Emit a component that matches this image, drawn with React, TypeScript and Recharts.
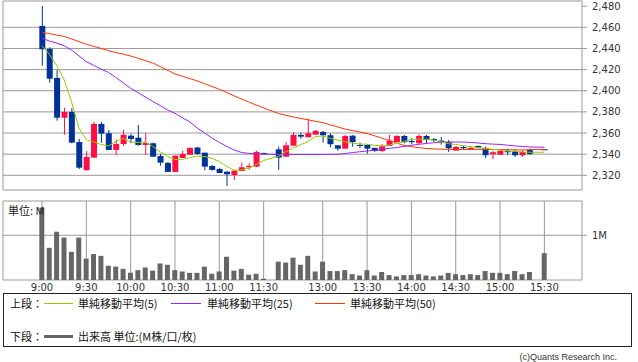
import React from 'react';
import {
  ComposedChart,
  Bar,
  Line,
  XAxis,
  YAxis,
  CartesianGrid,
  ReferenceArea,
} from 'recharts';

// ---- data (index 0 = 9:00, 5-minute bars; null = no trade slot) ----
const opens = [
  2461.3, 2439.5, 2412.1, 2374.5, 2379.9, 2351.5, 2324.9, 2336.7, 2368.6, 2359.8,
  2344.0, 2349.6, 2357.5, 2355.6, 2348.7, 2350.3, 2338.3, 2331.7, 2323.2, 2336.4,
  2339.5, 2346.3, 2341.4, 2328.8, 2326.0, 2323.4, 2320.3, 2324.1, 2327.6, 2328.2,
  2341.1, null, 2344.6, 2337.6, 2348.0, 2358.2, 2356.0, 2358.4, 2361.0, 2357.9,
  2348.4, 2345.2, 2357.5, 2348.7, 2348.7, 2345.9, 2343.0, 2347.8, 2351.5, 2357.2,
  2352.5, 2350.3, 2357.2, 2354.4, 2352.8, 2351.5, 2343.3, 2346.8, 2344.9, 2347.8,
  2345.9, 2339.9, 2339.5, 2343.0, 2343.0, 2339.0, 2344.0, null, 2344.6,
];
const highs = [
  2480.2, 2441.1, 2419.7, 2384.0, 2383.7, 2354.4, 2343.0, 2370.5, 2370.5, 2362.9,
  2354.1, 2362.9, 2359.4, 2367.6, 2359.8, 2350.9, 2340.2, 2332.6, 2338.6, 2343.3,
  2346.3, 2347.1, 2341.4, 2329.8, 2327.2, 2324.0, 2325.1, 2332.0, 2331.4, 2343.3,
  2341.4, null, 2347.1, 2351.5, 2360.7, 2360.3, 2373.6, 2362.9, 2362.0, 2359.8,
  2348.4, 2358.2, 2358.0, 2350.9, 2349.0, 2346.3, 2349.6, 2358.2, 2357.9, 2358.2,
  2355.0, 2358.8, 2358.2, 2355.3, 2356.3, 2353.4, 2347.8, 2348.0, 2347.8, 2348.0,
  2347.1, 2343.0, 2344.6, 2345.2, 2344.6, 2344.0, 2345.2, null, 2344.6,
];
const lows = [
  2423.7, 2407.6, 2371.7, 2358.4, 2350.3, 2326.0, 2324.4, 2336.7, 2350.9, 2344.0,
  2339.2, 2347.8, 2350.3, 2348.0, 2339.2, 2337.4, 2329.1, 2323.2, 2323.2, 2336.4,
  2339.5, 2339.5, 2324.8, 2324.4, 2322.2, 2309.9, 2315.6, 2324.1, 2325.1, 2328.0,
  2340.2, null, 2325.1, 2337.6, 2348.0, 2354.7, 2356.0, 2358.4, 2350.9, 2346.5,
  2343.3, 2345.2, 2347.1, 2345.6, 2340.5, 2342.1, 2342.1, 2347.8, 2351.5, 2350.3,
  2349.4, 2349.6, 2350.3, 2351.5, 2349.0, 2342.1, 2343.3, 2344.3, 2344.3, 2345.6,
  2336.4, 2335.5, 2339.5, 2339.2, 2337.4, 2337.4, 2339.2, null, 2344.6,
];
const closes = [
  2439.2, 2411.4, 2374.5, 2379.9, 2350.9, 2327.2, 2337.4, 2368.6, 2359.4, 2344.0,
  2349.6, 2358.2, 2354.4, 2348.7, 2350.6, 2337.6, 2332.0, 2323.2, 2338.6, 2340.2,
  2345.9, 2340.2, 2328.2, 2325.1, 2322.2, 2321.0, 2324.4, 2327.6, 2328.8, 2342.1,
  2340.5, null, 2336.7, 2348.4, 2358.2, 2356.6, 2359.8, 2362.0, 2357.9, 2349.4,
  2345.2, 2357.2, 2351.5, 2347.8, 2345.2, 2343.0, 2347.5, 2352.8, 2357.2, 2351.3,
  2351.3, 2357.2, 2353.4, 2353.1, 2351.5, 2345.6, 2346.8, 2345.6, 2345.9, 2345.9,
  2339.0, 2341.8, 2343.0, 2341.8, 2339.0, 2342.1, 2340.2, null, 2344.6,
];
const ma5 = [
  2442.6, 2434.3, 2423.9, 2410.2, 2389.4, 2364.8, 2353.6, 2351.5, 2349.2, 2347.8,
  2352.0, 2354.9, 2351.5, 2351.1, 2351.3, 2347.3, 2342.1, 2337.8, 2335.0, 2335.0,
  2336.7, 2338.1, 2337.8, 2336.0, 2333.1, 2328.4, 2324.8, 2325.1, 2326.9, 2330.4,
  2334.0, null, 2338.0, 2342.1, 2345.9, 2348.9, 2352.0, 2356.7, 2357.2, 2355.0,
  2353.4, 2351.7, 2350.4, 2349.6, 2349.4, 2348.4, 2347.8, 2348.7, 2350.1, 2352.0,
  2353.9, 2354.2, 2354.1, 2353.4, 2351.7, 2349.9, 2349.2, 2348.0, 2347.0, 2346.3,
  2345.4, 2344.6, 2344.0, 2343.0, 2342.6, 2342.1, 2341.8, null, 2341.8,
];
const ma25 = [
  2449.6, 2447.0, 2445.0, 2442.6, 2438.5, 2433.0, 2427.5, 2424.0, 2420.5, 2417.3,
  2412.5, 2407.5, 2402.3, 2398.3, 2394.0, 2389.8, 2386.0, 2381.8, 2378.7, 2374.5,
  2370.5, 2364.8, 2360.1, 2355.3, 2351.1, 2347.3, 2344.0, 2341.6, 2340.7, 2340.2,
  2340.0, null, 2339.8, 2339.7, 2339.7, 2339.7, 2339.7, 2339.7, 2339.7, 2339.8,
  2340.0, 2340.5, 2341.5, 2342.3, 2343.0, 2343.6, 2344.5, 2345.5, 2346.3, 2347.4,
  2348.4, 2349.3, 2350.1, 2350.8, 2351.3, 2351.5, 2351.5, 2351.4, 2351.1, 2350.6,
  2349.9, 2349.5, 2349.2, 2348.5, 2347.8, 2347.3, 2346.8, null, 2346.5,
];
const ma50 = [
  2455.3, 2454.0, 2452.7, 2451.4, 2449.0, 2446.5, 2444.0, 2442.0, 2440.0, 2437.9,
  2436.2, 2434.6, 2432.9, 2430.7, 2428.5, 2426.3, 2422.8, 2419.4, 2415.9, 2413.7,
  2411.5, 2409.3, 2406.7, 2404.0, 2401.4, 2398.3, 2395.2, 2392.2, 2389.3, 2386.5,
  2383.7, null, 2378.5, 2376.8, 2375.2, 2373.8, 2372.5, 2371.1, 2369.8, 2367.8,
  2365.8, 2363.8, 2362.4, 2361.0, 2359.6, 2357.4, 2355.2, 2353.0, 2350.5, 2348.3,
  2347.1, 2346.2, 2345.4, 2345.0, 2344.7, 2344.6, 2344.5, 2344.5, 2344.5, 2344.5,
  2344.4, 2344.4, 2344.3, 2344.2, 2344.1, 2344.0, 2344.2, null, 2344.6,
];
// volume in millions of shares
const volumes = [
  1.62, 0.72, 1.08, 0.95, 0.63, 0.95, 0.48, 0.58, 0.54, 0.32,
  0.30, 0.25, 0.16, 0.22, 0.28, 0.21, 0.37, 0.34, 0.22, 0.19,
  0.16, 0.16, 0.30, 0.14, 0.19, 0.52, 0.21, 0.25, 0.12, 0.14,
  0.03, null, 0.41, 0.39, 0.50, 0.34, 0.54, 0.19, 0.41, 0.20,
  0.20, 0.22, 0.13, 0.10, 0.22, 0.10, 0.18, 0.11, 0.08, 0.11,
  0.11, 0.13, 0.10, 0.08, 0.10, 0.16, 0.13, 0.11, 0.13, 0.11,
  0.20, 0.16, 0.16, 0.13, 0.20, 0.13, 0.18, null, 0.60,
];
const timeTickIndex = [0, 6, 12, 18, 24, 30, 38, 44, 50, 56, 62, 68];
const timeTickLabels = ['9:00', '9:30', '10:00', '10:30', '11:00', '11:30', '13:00', '13:30', '14:00', '14:30', '15:00', '15:30'];
const priceTicks = [2320, 2340, 2360, 2380, 2400, 2420, 2440, 2460, 2480];
const priceGrid = [2320, 2340, 2360, 2380, 2400, 2420, 2440, 2460];
const volumeTicks = [1];

const X_MIN = -5.28;
const X_MAX = 73.09;
const P_MIN = 2306.1;
const P_MAX = 2484.9;
const V_MAX = 1.767;

const UP = '#ff0d45';
const DOWN = '#003399';
const GRID = '#999999';
const C_MA5 = '#99cc00';
const C_MA25 = '#9922ff';
const C_MA50 = '#ff3300';
const AXIS_FONT = "'DejaVu Sans', Verdana, sans-serif";
const JP_FONT = "'Noto Sans CJK JP', 'DejaVu Sans', sans-serif";

const rows = opens.map((o, i) => ({
  i,
  open: o,
  high: highs[i],
  low: lows[i],
  close: closes[i],
  range: o == null ? null : [lows[i], highs[i]],
  ma5: ma5[i],
  ma25: ma25[i],
  ma50: ma50[i],
  vol: volumes[i],
}));

const Candle = (props: any) => {
  const { x, y, width, height, payload } = props;
  if (!payload || payload.open == null) return null;
  const { open, close, high, low } = payload;
  const color = close > open ? UP : DOWN;
  const top = Math.min(y, y + height);
  const h = Math.abs(height);
  const span = high - low;
  const ratio = span > 0 ? h / span : 0;
  const yOf = (v: number) => top + (high - v) * ratio;
  const cx = x + width / 2;
  const bTop = yOf(Math.max(open, close));
  const bBot = yOf(Math.min(open, close));
  const bh = Math.max(1, bBot - bTop);
  return (
    <g>
      {h > 0 && <line x1={cx} x2={cx} y1={top} y2={top + h} stroke={color} strokeWidth={1} />}
      <rect x={x} y={bTop} width={width} height={bh} fill={color} />
    </g>
  );
};

const tickStyle = { fontSize: 10, fill: '#333', fontFamily: AXIS_FONT };

export default function App() {
  return (
    <div
      style={{
        position: 'fixed',
        left: 0,
        top: 0,
        width: 638,
        height: 362,
        background: '#fff',
        overflow: 'hidden',
      }}
    >
      <div style={{ position: 'absolute', left: 0, top: 0 }}>
        <ComposedChart width={638} height={196} data={rows} margin={{ top: 1, right: 3, bottom: 6, left: 3 }}>
          <XAxis
            dataKey="i"
            type="number"
            domain={[X_MIN, X_MAX]}
            allowDataOverflow
            ticks={timeTickIndex}
            tick={false}
            tickLine={false}
            axisLine={false}
            height={0}
          />
          <YAxis
            orientation="right"
            width={53}
            type="number"
            domain={[P_MIN, P_MAX]}
            allowDataOverflow
            ticks={priceTicks}
            interval={0}
            tickFormatter={(v: number) => v.toLocaleString('en-US')}
            axisLine={false}
            tickLine={{ stroke: GRID }}
            tickSize={5}
            tickMargin={5}
            tick={tickStyle}
          />
          <CartesianGrid stroke={GRID} horizontalValues={priceGrid} verticalValues={timeTickIndex} />
          <ReferenceArea x1={X_MIN} x2={X_MAX} y1={P_MIN} y2={P_MAX} fill="none" fillOpacity={0} stroke={GRID} ifOverflow="visible" />
          <Bar dataKey="range" barSize={6} shape={Candle} isAnimationActive={false} />
          <Line dataKey="ma50" stroke={C_MA50} strokeWidth={1} dot={false} activeDot={false} connectNulls type="linear" isAnimationActive={false} />
          <Line dataKey="ma25" stroke={C_MA25} strokeWidth={1} dot={false} activeDot={false} connectNulls type="linear" isAnimationActive={false} />
          <Line dataKey="ma5" stroke={C_MA5} strokeWidth={1} dot={false} activeDot={false} connectNulls type="linear" isAnimationActive={false} />
        </ComposedChart>
      </div>

      <div style={{ position: 'absolute', left: 0, top: 196 }}>
        <ComposedChart width={638} height={100} data={rows} margin={{ top: 5, right: 3, bottom: 0, left: 3 }}>
          <XAxis
            dataKey="i"
            type="number"
            domain={[X_MIN, X_MAX]}
            allowDataOverflow
            ticks={timeTickIndex}
            interval={0}
            tickFormatter={(v: number) => timeTickLabels[timeTickIndex.indexOf(v)]}
            tickLine={false}
            axisLine={false}
            tickSize={0}
            tickMargin={4}
            height={16}
            tick={tickStyle}
          />
          <YAxis
            orientation="right"
            width={53}
            type="number"
            domain={[0, V_MAX]}
            allowDataOverflow
            ticks={volumeTicks}
            interval={0}
            tickFormatter={(v: number) => `${v}M`}
            axisLine={false}
            tickLine={{ stroke: GRID }}
            tickSize={5}
            tickMargin={5}
            tick={tickStyle}
          />
          <CartesianGrid stroke={GRID} horizontalValues={volumeTicks} verticalValues={timeTickIndex} />
          <ReferenceArea x1={X_MIN} x2={X_MAX} y1={0} y2={V_MAX} fill="none" fillOpacity={0} stroke={GRID} ifOverflow="visible" />
          <Bar dataKey="vol" barSize={5} fill="#666666" isAnimationActive={false} />
        </ComposedChart>
      </div>

      <div
        style={{
          position: 'absolute',
          left: 8,
          top: 204,
          fontFamily: JP_FONT,
          fontSize: 11,
          lineHeight: '13px',
          color: '#222',
        }}
      >
        単位: M
      </div>

      {/* legend box */}
      <div
        style={{
          position: 'absolute',
          left: 3,
          top: 293,
          width: 629,
          height: 54,
          border: '1px solid #222',
          boxSizing: 'border-box',
        }}
      />
      <div style={{ position: 'absolute', left: 10, top: 297, fontFamily: JP_FONT, fontSize: 11, lineHeight: '13px', color: '#111' }}>上段：</div>
      <div style={{ position: 'absolute', left: 44, top: 303, width: 29, height: 1, background: C_MA5 }} />
      <div style={{ position: 'absolute', left: 78, top: 297, fontFamily: JP_FONT, fontSize: 11, lineHeight: '13px', color: '#111' }}>単純移動平均(5)</div>
      <div style={{ position: 'absolute', left: 171, top: 303, width: 30, height: 1, background: C_MA25 }} />
      <div style={{ position: 'absolute', left: 207, top: 297, fontFamily: JP_FONT, fontSize: 11, lineHeight: '13px', color: '#111' }}>単純移動平均(25)</div>
      <div style={{ position: 'absolute', left: 315, top: 303, width: 30, height: 1, background: C_MA50 }} />
      <div style={{ position: 'absolute', left: 350, top: 297, fontFamily: JP_FONT, fontSize: 11, lineHeight: '13px', color: '#111' }}>単純移動平均(50)</div>

      <div style={{ position: 'absolute', left: 10, top: 330, fontFamily: JP_FONT, fontSize: 11, lineHeight: '13px', color: '#111' }}>下段：</div>
      <div style={{ position: 'absolute', left: 44, top: 335, width: 29, height: 3, background: '#666666' }} />
      <div style={{ position: 'absolute', left: 78, top: 330, fontFamily: JP_FONT, fontSize: 11, lineHeight: '13px', color: '#111' }}>出来高 単位:(M株/口/枚)</div>

      <div
        style={{
          position: 'absolute',
          right: 21,
          top: 351,
          fontFamily: "'Liberation Sans', Arial, sans-serif",
          fontSize: 9,
          lineHeight: '12px',
          color: '#333',
        }}
      >
        (c)Quants Research Inc.
      </div>
    </div>
  );
}
